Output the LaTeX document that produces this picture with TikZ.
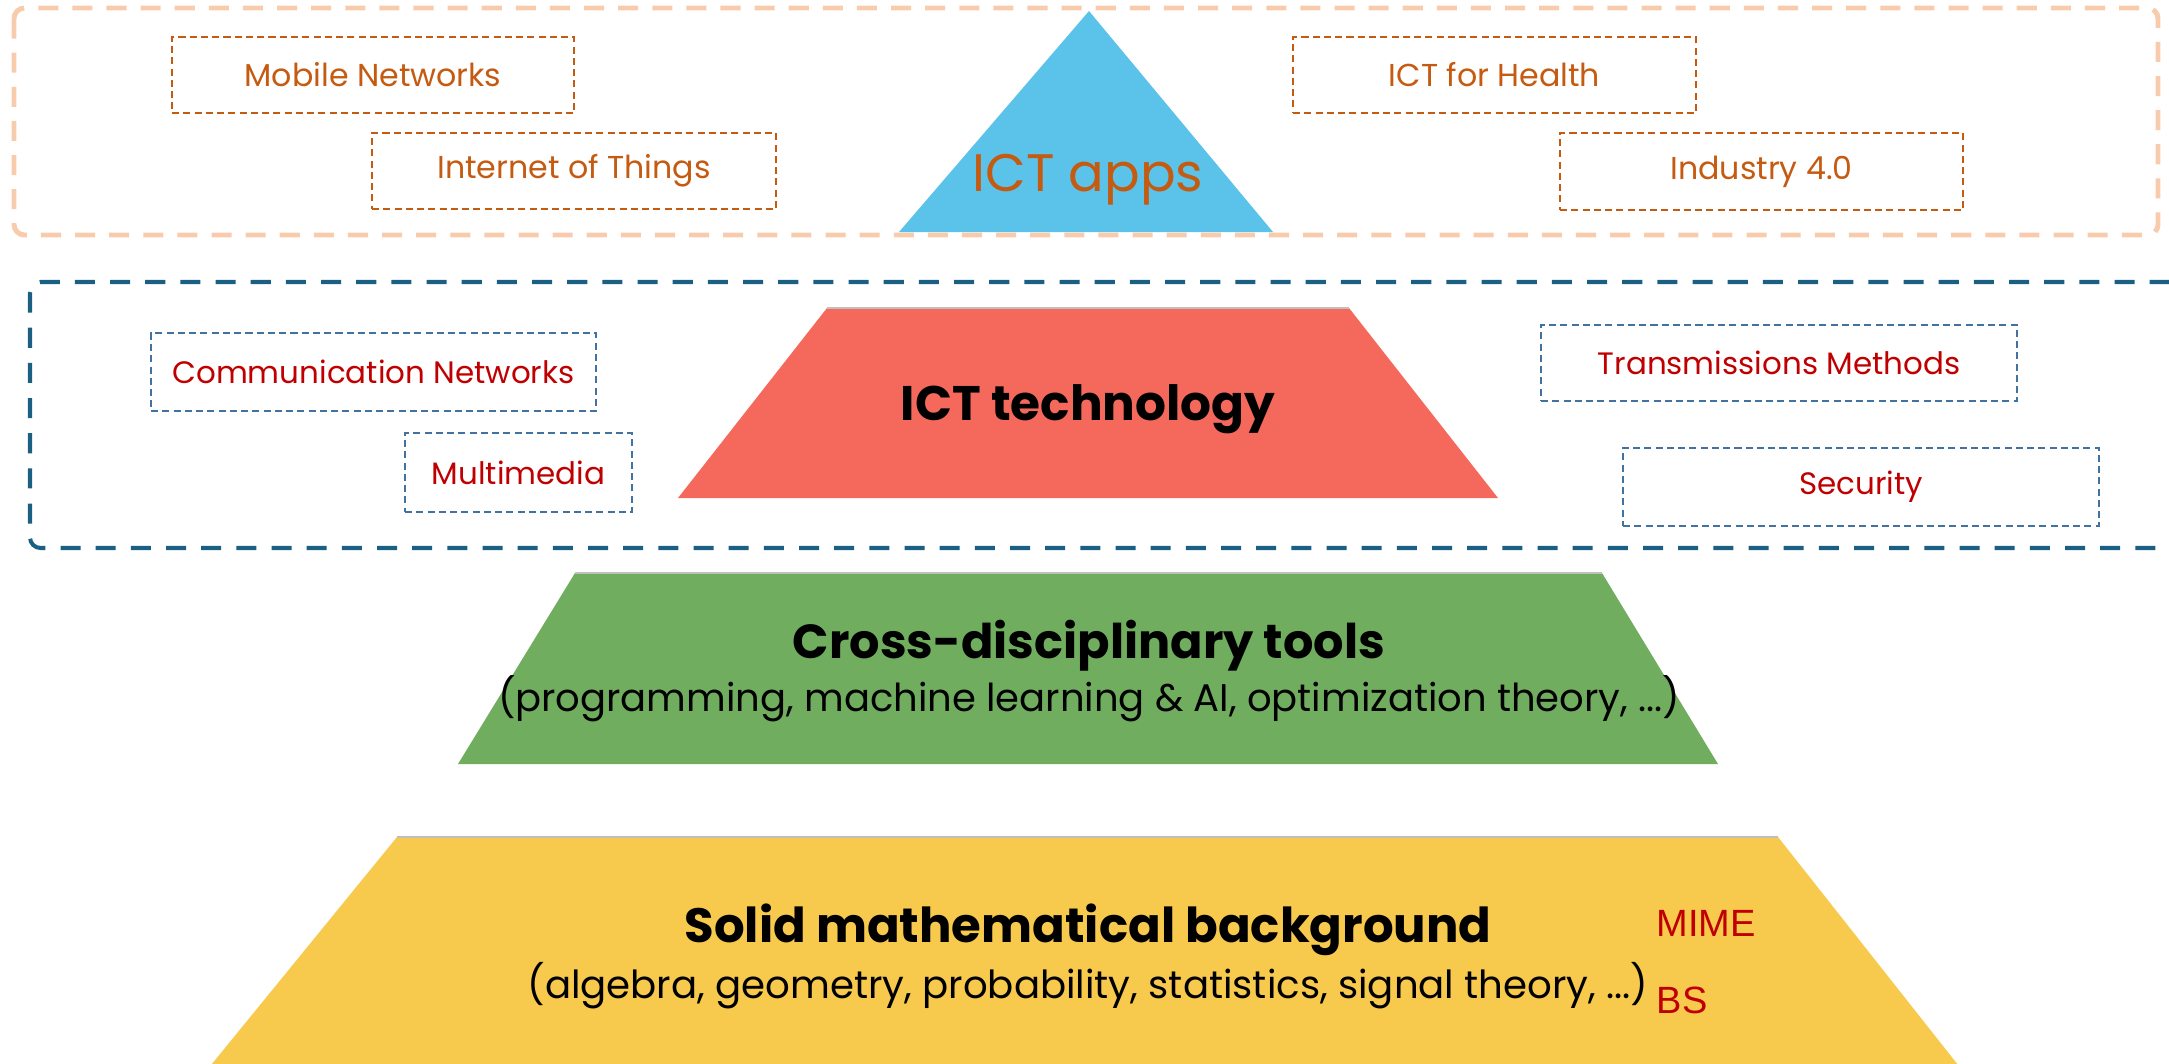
\documentclass[tikz,border=0pt]{standalone}
\usepackage{fontspec}
\setmainfont{Poppins}
\newfontfamily\arialfont{Liberation Sans}
\definecolor{appor}{HTML}{C55A11}
\definecolor{peach}{HTML}{F8CBAD}
\definecolor{techblue}{HTML}{1B5F82}
\definecolor{boxblue}{HTML}{4272A0}
\definecolor{techred}{HTML}{C00000}
\definecolor{triblue}{HTML}{5BC3E9}
\definecolor{trapred}{HTML}{F4695B}
\definecolor{trapgreen}{HTML}{70AD5E}
\definecolor{trapyellow}{HTML}{F7C94D}
\newcommand{\fsz}[1]{\fontsize{#1}{1.2\dimexpr#1\relax}\selectfont}
\tikzset{
  appbox/.style={draw=appor, line width=0.45pt, dash pattern=on 2pt off 1.2pt, text=appor, inner sep=0pt, font=\fsz{9pt}},
  techbox/.style={draw=boxblue, line width=0.45pt, dash pattern=on 2pt off 1.2pt, text=techred, inner sep=0pt, font=\fsz{8.8pt}},
  layertitle/.style={font=\bfseries\fsz{13.7pt}, text=black, inner sep=0pt},
  layersub/.style={font=\fsz{11pt}, text=black, inner sep=0pt},
  progtag/.style={font=\arialfont\fsz{10.8pt}, text=techred, inner sep=0pt, anchor=west},
}
\begin{document}
\begin{tikzpicture}[x=0.01cm, y=-0.01cm]
\useasboundingbox (0,0) rectangle (2169,1063);
\begin{scope}
\clip (0,0) rectangle (2169,1063);
% outer regions
\draw[peach, line width=1.4pt, dash pattern=on 5.7pt off 4pt, rounded corners=3pt] (14,8) rectangle (2158,235);
\draw[techblue, line width=1.15pt, dash pattern=on 5.7pt off 4.3pt, rounded corners=3pt] (30,282) rectangle (2200,548);
% pyramid layers
\fill[triblue] (1089,11) -- (1273,232) -- (899,232) -- cycle;
\fill[trapred] (827,308) -- (1349,308) -- (1498,498) -- (678,498) -- cycle;
\draw[black!25, line width=0.4pt] (827,308) -- (1349,308);
\fill[trapgreen] (575,573) -- (1602,573) -- (1718,764) -- (458,764) -- cycle;
\draw[black!25, line width=0.4pt] (575,573) -- (1602,573);
\fill[trapyellow] (397,837) -- (1778,837) -- (1962,1070) -- (207,1070) -- cycle;
\draw[black!25, line width=0.4pt] (397,837) -- (1778,837);
\end{scope}
% layer texts
\node[font=\fsz{15pt}, text=appor, inner sep=0pt] (apps) at (1088,180) {ICT apps};
\node[layertitle, font=\bfseries\fsz{13.8pt}] (tech) at (1088,409) {ICT technology};
\node[layertitle, font=\bfseries\fsz{13.6pt}] (tools) at (1089,646) {Cross-disciplinary tools};
\node[layersub, font=\fsz{10.95pt}] (toolssub) at (1089,699) {(programming, machine learning \& AI, optimization theory, ...)};
\node[layertitle] (math) at (1088,930) {Solid mathematical background};
\node[layersub] (mathsub) at (1088,986) {(algebra, geometry, probability, statistics, signal theory, ...)};
\node[progtag] (mime) at (1656,923) {MIME};
\node[progtag] (bs) at (1656,1000) {BS};
% application boxes
\node[appbox, minimum width=402*0.01cm, minimum height=76*0.01cm] (mobile) at (373,75) {Mobile Networks};
\node[appbox, minimum width=404*0.01cm, minimum height=76*0.01cm] (iot) at (574,171) {Internet of Things};
\node[appbox, minimum width=403*0.01cm, minimum height=76*0.01cm] (health) at (1494.5,75) {ICT for Health};
\node[appbox, minimum width=403*0.01cm, minimum height=77*0.01cm] (industry) at (1761.5,171.5) {Industry 4.0};
% technology boxes
\node[techbox, minimum width=445*0.01cm, minimum height=78*0.01cm] (comm) at (373.5,372) {Communication Networks};
\node[techbox, minimum width=227*0.01cm, minimum height=79*0.01cm] (multi) at (518.5,472.5) {Multimedia};
\node[techbox, minimum width=476*0.01cm, minimum height=76*0.01cm] (trans) at (1779,363) {Transmissions Methods};
\node[techbox, minimum width=476*0.01cm, minimum height=78*0.01cm] (sec) at (1861,487) {Security};
\end{tikzpicture}
\end{document}
